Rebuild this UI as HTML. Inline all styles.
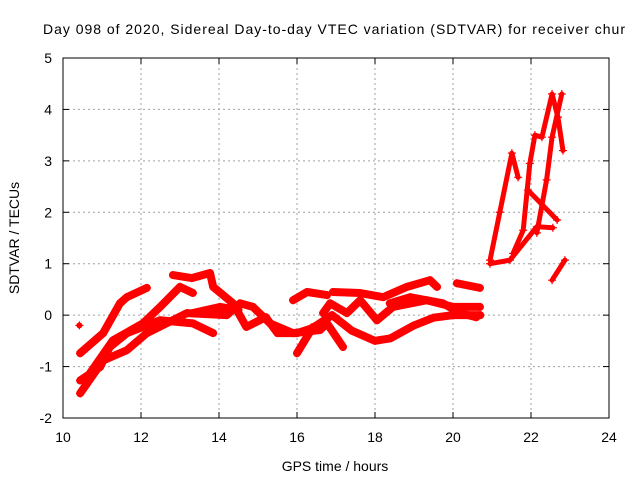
<!DOCTYPE html>
<html><head><meta charset="utf-8"><style>
body{margin:0;background:#fff;}
svg{display:block;font-family:"Liberation Sans",sans-serif;}
</style></head><body>
<svg id="chart" width="640" height="480">
<text x="334" y="34" font-size="14" text-anchor="middle" textLength="582">Day 098 of 2020, Sidereal Day-to-day VTEC variation (SDTVAR) for receiver chur</text>
<text x="0" y="0" font-size="14" text-anchor="middle" transform="translate(19,238) rotate(-90)">SDTVAR / TECUs</text>
<text x="335" y="471" font-size="14" text-anchor="middle">GPS time / hours</text>
<g id="grid"></g><g id="ticks"></g><g id="marks"></g>
<rect x="63" y="58" width="546" height="360" fill="none" stroke="#000" stroke-width="1"/>
</svg>
<script>
const xTicks=[10,12,14,16,18,20,22,24];
const yTicks=[-2,-1,0,1,2,3,4,5];
const trackA=[[10.44,-0.74],[11.03,-0.35],[11.46,0.23],[11.64,0.35],[12.15,0.53]];
const trackB=[[10.69,-1.13],[11.28,-0.49],[12.05,-0.16],[12.49,0.16],[13.0,0.55],[13.33,0.43]];
const trackC=[[10.44,-1.52],[11.03,-0.88],[11.64,-0.68],[12.15,-0.35],[13.18,0.04],[14.2,0.0],[14.54,0.23],[14.87,0.16],[15.31,-0.16],[15.9,-0.35],[16.59,-0.29],[16.77,-0.16],[17.18,-0.62]];
const trackD=[[10.44,-1.27],[10.95,-1.01],[11.2,-0.62],[11.64,-0.35],[12.49,-0.1],[13.33,-0.16],[13.85,-0.35]];
const trackE=[[12.82,0.78],[13.3,0.72],[13.77,0.82],[13.85,0.55],[14.36,0.23],[14.7,-0.23],[15.2,-0.04],[15.5,-0.35],[16.0,-0.35],[16.4,-0.25],[16.9,0.0],[17.4,-0.3],[18.0,-0.5],[18.4,-0.45],[19.0,-0.2],[19.5,-0.05],[20.0,0.0],[20.7,0.0]];
const trackF=[[15.9,0.29],[16.26,0.45],[16.77,0.39]];
const trackG=[[16.92,0.45],[17.62,0.43],[18.21,0.35],[18.82,0.55],[19.41,0.68],[19.59,0.55]];
const trackH=[[16.67,0.04],[16.85,0.23],[17.28,0.04],[17.62,0.29],[18.05,-0.1],[18.46,0.16],[19.33,0.29],[20.0,0.16],[20.69,0.16]];
const trackI=[[18.38,0.23],[18.9,0.35],[19.74,0.23],[20.18,0.04],[20.6,-0.04]];
const trackJ=[[20.1,0.62],[20.69,0.53]];
const trackK=[[16.0,-0.74],[16.41,-0.23]];
const trackL=[[13.33,0.04],[14.03,0.16],[14.5,0.1]];
const trackR1=[[20.95,1.07],[21.2,2.0],[21.51,3.15],[21.67,2.68]];
const trackR2=[[21.54,1.2],[21.8,1.65],[21.97,2.95],[22.1,3.5],[22.28,3.46],[22.54,4.3],[22.69,3.85],[22.82,3.2]];
const trackR3=[[20.95,1.0],[21.46,1.07],[22.15,1.72],[22.56,1.7]];
const trackR4=[[21.92,2.43],[22.67,1.85]];
const trackR5=[[22.15,1.6],[22.4,2.63],[22.54,3.46],[22.79,4.3]];
const trackR6=[[22.54,0.68],[22.87,1.07]];
const single=[[10.42,-0.2]];
const tracks=[trackA,trackB,trackC,trackD,trackE,trackF,trackG,trackH,trackI,trackJ,trackK,trackL,trackR1,trackR2,trackR3,trackR4,trackR5,trackR6,single];
const NS="http://www.w3.org/2000/svg";
const X=h=>63+(h-10)*546/14, Y=v=>58+(5-v)*360/7;
function mk(t,a,p){const e=document.createElementNS(NS,t);for(const k in a)e.setAttribute(k,a[k]);p.appendChild(e);return e;}
const grid=document.getElementById('grid'),ticks=document.getElementById('ticks'),marks=document.getElementById('marks');
xTicks.forEach(t=>{const x=X(t);
 if(t>10&&t<24){const g=mk('line',{x1:x,x2:x,y1:58,y2:418,stroke:'#a0a0a0','stroke-dasharray':'2,3'},grid);
 
 }
 mk('line',{x1:x,x2:x,y1:418,y2:412,stroke:'#000'},ticks);mk('line',{x1:x,x2:x,y1:58,y2:64,stroke:'#000'},ticks);
 const l=mk('text',{x:x,y:442,'font-size':14,'text-anchor':'middle'},ticks);l.textContent=t;
 
 });
yTicks.forEach(t=>{const y=Y(t);
 if(t>-2&&t<5){const g=mk('line',{x1:63,x2:609,y1:y,y2:y,stroke:'#a0a0a0','stroke-dasharray':'2,3'},grid);
 
 }
 mk('line',{x1:63,x2:69,y1:y,y2:y,stroke:'#000'},ticks);mk('line',{x1:609,x2:603,y1:y,y2:y,stroke:'#000'},ticks);
 const l=mk('text',{x:52,y:y+5,'font-size':14,'text-anchor':'end'},ticks);l.textContent=t;
 
 });
tracks.forEach(tr=>{
 const right=tr[0][0]>20.8, lone=tr.length===1;
 if(lone){
  const c=mk('circle',{cx:X(tr[0][0]),cy:Y(tr[0][1]),r:3,fill:'#ff0000'},marks);
  
  
 } else {
  const pl=mk('polyline',{points:tr.map(p=>X(p[0])+','+Y(p[1])).join(' '),fill:'none',stroke:'#ff0000','stroke-width':right?5:8,'stroke-linejoin':'round','stroke-linecap':'round'},marks);
  
  
 }
 tr.forEach(p=>{const x=X(p[0]),y=Y(p[1]);
  const m=mk('path',{d:`M${x-4},${y}h8M${x},${y-4}v8`,stroke:'#ff0000','stroke-width':1.2},marks);
  
  });
});
</script>
</body></html>
